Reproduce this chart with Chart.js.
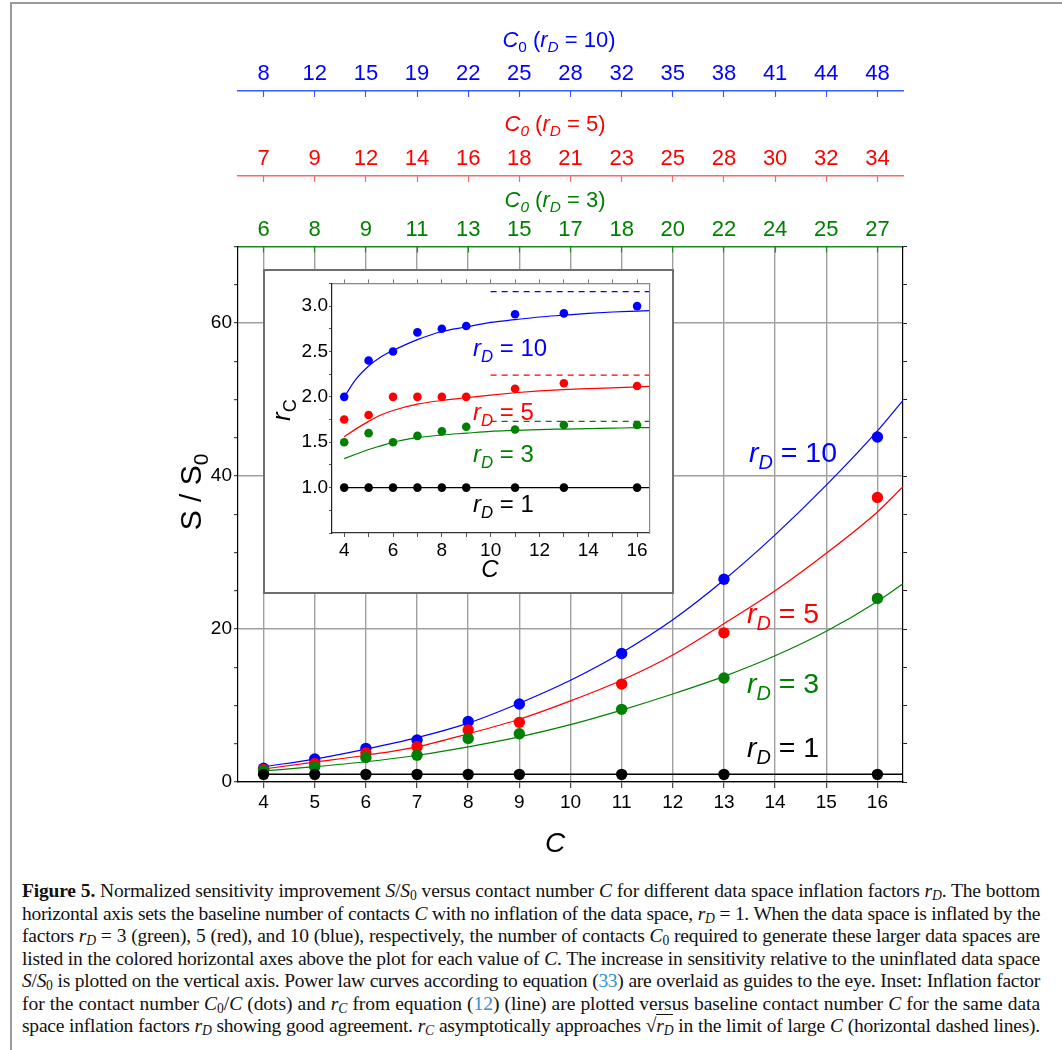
<!DOCTYPE html>
<html>
<head>
<meta charset="utf-8">
<script src="https://cdn.jsdelivr.net/npm/chart.js@4.4.1/dist/chart.umd.min.js"></script>
<style>
  html, body { margin: 0; padding: 0; background: #fff; }
  body { width: 1062px; height: 1050px; position: relative; overflow: hidden; }
  #frame { position: absolute; left: 10px; top: 2px; width: 1100px; height: 1100px; border-left: 2px solid #9a9a9a; border-top: 2px solid #9a9a9a; }
  #main { position: absolute; left: 0; top: 0; }
  #insetBox { position: absolute; left: 263px; top: 269px; width: 407px; height: 321px; border: 2px solid #6e6e6e; background: #fff; }
  #inset { display: block; }
  .cap { position: absolute; left: 22px; top: 880px; width: 1018px; font-family: "Liberation Serif", "Times New Roman", serif; font-size: 19.5px; color: #111; }
  .cap div { height: 22.5px; line-height: 22.5px; text-align: justify; text-align-last: justify; white-space: nowrap; }
  .cap sub { font-size: 70%; line-height: 0; vertical-align: -0.25em; }
  .ref { color: #2f8fd0; }
  .sq { border-top: 1px solid #111; }
</style>
</head>
<body>
<div id="frame"></div>
<canvas id="main" width="1062" height="870"></canvas>
<div id="insetBox"><canvas id="inset" width="407" height="321"></canvas></div>
<div class="cap">
  <div><b>Figure 5.</b> Normalized sensitivity improvement <i>S</i>/<i>S</i><sub>0</sub> versus contact number <i>C</i> for different data space inflation factors <i>r<sub>D</sub></i>. The bottom</div>
  <div>horizontal axis sets the baseline number of contacts <i>C</i> with no inflation of the data space, <i>r<sub>D</sub></i> = 1. When the data space is inflated by the</div>
  <div>factors <i>r<sub>D</sub></i> = 3 (green), 5 (red), and 10 (blue), respectively, the number of contacts <i>C</i><sub>0</sub> required to generate these larger data spaces are</div>
  <div>listed in the colored horizontal axes above the plot for each value of <i>C</i>. The increase in sensitivity relative to the uninflated data space</div>
  <div><i>S</i>/<i>S</i><sub>0</sub> is plotted on the vertical axis. Power law curves according to equation (<span class="ref">33</span>) are overlaid as guides to the eye. Inset: Inflation factor</div>
  <div>for the contact number <i>C</i><sub>0</sub>/<i>C</i> (dots) and <i>r<sub>C</sub></i> from equation (<span class="ref">12</span>) (line) are plotted versus baseline contact number <i>C</i> for the same data</div>
  <div>space inflation factors <i>r<sub>D</sub></i> showing good agreement. <i>r<sub>C</sub></i> asymptotically approaches &radic;<span class="sq"><i>r<sub>D</sub></i></span> in the limit of large <i>C</i> (horizontal dashed lines).</div>
</div>
<script>
// bottom axis C and the three C0 axes on top
var cTicks = [4, 5, 6, 7, 8, 9, 10, 11, 12, 13, 14, 15, 16];
var c0r10 = [8, 12, 15, 19, 22, 25, 28, 32, 35, 38, 41, 44, 48];
var c0r5 = [7, 9, 12, 14, 16, 18, 21, 23, 25, 28, 30, 32, 34];
var c0r3 = [6, 8, 9, 11, 13, 15, 17, 18, 20, 22, 24, 25, 27];

// S/S0 dots
var pointC = [4, 5, 6, 7, 8, 9, 11, 13, 16];
var s10 = [1.8, 3.0, 4.4, 5.5, 7.9, 10.2, 16.8, 26.5, 45.1];
var s5 = [1.65, 2.4, 3.8, 4.6, 6.8, 7.8, 12.8, 19.5, 37.2];
var s3 = [1.5, 2.0, 3.2, 3.5, 5.7, 6.3, 9.5, 13.6, 24.0];
var s1 = [1, 1, 1, 1, 1, 1, 1, 1, 1];

// power law guide curves
var curveC = [4, 5, 6, 7, 8, 9, 10, 11, 12, 13, 14, 15, 16, 16.5];
var s10Curve = [2.0, 3.0, 4.3, 5.8, 7.7, 10.3, 13.3, 16.9, 21.2, 26.4, 32.3, 38.8, 45.9, 49.9];
var s5Curve = [1.7, 2.6, 3.5, 4.6, 6.3, 8.2, 10.6, 13.3, 16.6, 20.7, 25.0, 29.9, 35.3, 38.6];
var s3Curve = [1.45, 2.0, 2.65, 3.5, 4.6, 5.9, 7.5, 9.4, 11.5, 13.8, 16.5, 19.7, 23.6, 25.9];
var flatC = [4, 16.5];
var s1Curve = [1, 1];

// inset: C0/C dots, rC lines and sqrt(rD) asymptotes
var r10 = [2.0, 2.4, 2.5, 2.71, 2.75, 2.78, 2.91, 2.92, 3.0];
var r5 = [1.75, 1.8, 2.0, 2.0, 2.0, 2.0, 2.09, 2.15, 2.12];
var r3 = [1.5, 1.6, 1.5, 1.57, 1.62, 1.67, 1.64, 1.69, 1.69];
var r1 = [1, 1, 1, 1, 1, 1, 1, 1, 1];
var insetCurveC = [4, 4.5, 5, 5.5, 6, 7, 8, 9, 10, 11, 12, 13, 14, 15, 16, 16.5];
var rc10 = [2.0, 2.2, 2.34, 2.44, 2.51, 2.63, 2.72, 2.77, 2.82, 2.85, 2.88, 2.90, 2.92, 2.935, 2.945, 2.95];
var rc5 = [1.56, 1.65, 1.73, 1.8, 1.85, 1.92, 1.96, 1.99, 2.02, 2.045, 2.065, 2.08, 2.09, 2.10, 2.11, 2.115];
var rc3 = [1.32, 1.37, 1.42, 1.46, 1.5, 1.55, 1.58, 1.60, 1.62, 1.63, 1.64, 1.645, 1.65, 1.655, 1.66, 1.662];
var rc1 = [1, 1];
var dashC = [10, 16.5];
var sqrt10 = [3.16, 3.16];
var sqrt5 = [2.24, 2.24];
var sqrt3 = [1.73, 1.73];

var FONT = '"Liberation Sans", Arial, sans-serif';
var BLUE = '#0000ff', RED = '#ff0000', GREEN = '#008000';

function xy(xs, ys) {
    return xs.map(function (x, i) { return { x: x, y: ys[i] }; });
}
function dots(xs, ys, color, r) {
    return { data: xy(xs, ys), showLine: false, pointRadius: r, pointHoverRadius: r,
        pointBackgroundColor: color, pointBorderWidth: 0, borderColor: color };
}
function curve(xs, ys, color, w, dash) {
    return { data: xy(xs, ys), showLine: true, pointRadius: 0, borderColor: color, borderWidth: w,
        borderDash: dash || [], cubicInterpolationMode: 'monotone', fill: false };
}
function setTicks(values) {
    return function (scale) { scale.ticks = values.map(function (v) { return { value: v }; }); };
}
function fixHeight(h) { return function (scale) { scale.height = h; }; }
function fixWidth(w) { return function (scale) { scale.width = w; }; }

function fontOf(p, size) {
    var st = p[1] || '';
    return (st.indexOf('i') >= 0 ? 'italic ' : '') + (st.indexOf('s') >= 0 ? size * 0.7 : size) + 'px ' + FONT;
}
// text with italic / subscript runs
function drawRich(ctx, parts, x, y, size, color, align) {
    var widths = parts.map(function (p) { ctx.font = fontOf(p, size); return ctx.measureText(p[0]).width; });
    var total = widths.reduce(function (a, b) { return a + b; }, 0);
    var cx = align === 'left' ? x : x - total / 2;
    ctx.fillStyle = color;
    ctx.textAlign = 'left';
    ctx.textBaseline = 'alphabetic';
    parts.forEach(function (p, i) {
        ctx.font = fontOf(p, size);
        ctx.fillText(p[0], cx, (p[1] || '').indexOf('s') >= 0 ? y + size * 0.24 : y);
        cx += widths[i];
    });
}
function rdLabel(v) { return [['r', 'i'], ['D', 'is'], [' = ' + v]]; }

function topAxis(labels, color, lineColor, weight, height) {
    return {
        type: 'linear', position: 'top', min: 3.5, max: 16.5, weight: weight,
        afterBuildTicks: setTicks(cTicks),
        afterFit: fixHeight(height),
        border: { color: lineColor, width: 1.5 },
        grid: { drawOnChartArea: false, tickLength: -6, tickColor: lineColor, tickWidth: 1.2 },
        ticks: { color: color, font: { size: 22, family: FONT }, padding: 9.5, maxRotation: 0, autoSkip: false,
            callback: function (v, i) { return labels[i]; } }
    };
}

var mainText = {
    id: 'mainText',
    afterDraw: function (chart) {
        var ctx = chart.ctx;
        ctx.save();
        drawRich(ctx, [['C', 'i'], ['0', 's'], [' ('], ['r', 'i'], ['D', 'is'], [' = 10)']], 559, 47, 22, BLUE);
        drawRich(ctx, [['C', 'i'], ['0', 'is'], [' ('], ['r', 'i'], ['D', 'is'], [' = 5)']], 555, 131, 22, RED);
        drawRich(ctx, [['C', 'i'], ['0', 'is'], [' ('], ['r', 'i'], ['D', 'is'], [' = 3)']], 555, 207, 22, GREEN);
        drawRich(ctx, rdLabel(10), 749, 462, 28.5, BLUE, 'left');
        drawRich(ctx, rdLabel(5), 747, 623, 28.5, RED, 'left');
        drawRich(ctx, rdLabel(3), 747, 693, 28.5, GREEN, 'left');
        drawRich(ctx, rdLabel(1), 747, 757, 28.5, '#000', 'left');
        drawRich(ctx, [['C', 'i']], 555, 852, 28, '#000');
        ctx.translate(201, 492);
        ctx.rotate(-Math.PI / 2);
        drawRich(ctx, [['S'], [' / S'], ['0', 's']], 0, 0, 30, '#000');
        ctx.restore();
    }
};

new Chart(document.getElementById('main'), {
    type: 'scatter',
    data: {
        datasets: [
            dots(pointC, s1, '#000', 5.7),
            dots(pointC, s3, GREEN, 5.7),
            dots(pointC, s5, RED, 5.7),
            dots(pointC, s10, BLUE, 5.7),
            curve(flatC, s1Curve, '#000', 1.5),
            curve(curveC, s3Curve, GREEN, 1.2),
            curve(curveC, s5Curve, RED, 1.2),
            curve(curveC, s10Curve, BLUE, 1.2)
        ]
    },
    options: {
        responsive: false,
        animation: false,
        devicePixelRatio: 1,
        layout: { padding: 0 },
        plugins: { legend: { display: false }, tooltip: { enabled: false } },
        scales: {
            x: {
                type: 'linear', position: 'bottom', min: 3.5, max: 16.5,
                afterBuildTicks: setTicks(cTicks),
                afterFit: fixHeight(88),
                border: { color: '#000', width: 1.2 },
                grid: { color: '#a0a0a0', lineWidth: 1.4, tickLength: 6, tickColor: '#222', tickWidth: 1 },
                ticks: { color: '#000', font: { size: 19, family: FONT }, padding: 3, maxRotation: 0, autoSkip: false }
            },
            top3: topAxis(c0r3, GREEN, '#1f8a1f', 1, 70.5),
            top5: topAxis(c0r5, RED, '#f26a6a', 2, 85),
            top10: topAxis(c0r10, BLUE, '#3a5cff', 3, 91),
            y: {
                type: 'linear', position: 'left', min: 0, max: 70,
                afterFit: fixWidth(238),
                border: { color: '#000', width: 1.2 },
                grid: {
                    lineWidth: 1.4, tickLength: 4, tickColor: '#222', tickWidth: 1,
                    color: function (c) { return c.tick && c.tick.value % 20 === 0 ? '#a0a0a0' : 'rgba(0,0,0,0)'; }
                },
                ticks: { stepSize: 5, color: '#000', font: { size: 19, family: FONT }, padding: 2, autoSkip: false,
                    callback: function (v) { return v % 20 === 0 ? String(v) : ''; } }
            },
            y2: {
                type: 'linear', position: 'right', min: 0, max: 70,
                afterFit: fixWidth(159),
                border: { color: '#000', width: 1.2 },
                grid: { drawOnChartArea: false, tickLength: 4, tickColor: '#222', tickWidth: 1 },
                ticks: { stepSize: 5, autoSkip: false, padding: 0, callback: function () { return ''; } }
            }
        }
    },
    plugins: [mainText]
});

var insetText = {
    id: 'insetText',
    afterDraw: function (chart) {
        var ctx = chart.ctx;
        ctx.save();
        drawRich(ctx, rdLabel(10), 208, 85, 24, BLUE, 'left');
        drawRich(ctx, rdLabel(5), 208, 149, 24, RED, 'left');
        drawRich(ctx, rdLabel(3), 208, 191, 24, GREEN, 'left');
        drawRich(ctx, rdLabel(1), 208, 241, 24, '#000', 'left');
        drawRich(ctx, [['C', 'i']], 225, 306, 24, '#000');
        ctx.translate(25, 139);
        ctx.rotate(-Math.PI / 2);
        drawRich(ctx, [['r', 'i'], ['C', 's']], 0, 0, 26, '#000');
        ctx.restore();
    }
};

new Chart(document.getElementById('inset'), {
    type: 'scatter',
    data: {
        datasets: [
            dots(pointC, r1, '#000', 4.3),
            dots(pointC, r3, GREEN, 4.3),
            dots(pointC, r5, RED, 4.3),
            dots(pointC, r10, BLUE, 4.3),
            curve(flatC, rc1, '#000', 1.3),
            curve(insetCurveC, rc3, GREEN, 1.2),
            curve(insetCurveC, rc5, RED, 1.2),
            curve(insetCurveC, rc10, BLUE, 1.2),
            curve(dashC, sqrt3, GREEN, 1.2, [6, 5]),
            curve(dashC, sqrt5, RED, 1.2, [6, 5]),
            curve(dashC, sqrt10, BLUE, 1.2, [6, 5])
        ]
    },
    options: {
        responsive: false,
        animation: false,
        devicePixelRatio: 1,
        layout: { padding: 0 },
        plugins: { legend: { display: false }, tooltip: { enabled: false } },
        scales: {
            x: {
                type: 'linear', position: 'bottom', min: 3.5, max: 16.5,
                afterBuildTicks: setTicks(cTicks),
                afterFit: fixHeight(59),
                border: { color: '#333', width: 1.2 },
                grid: { drawOnChartArea: false, tickLength: 4, tickColor: '#555' },
                ticks: { color: '#000', font: { size: 19, family: FONT }, padding: 2, maxRotation: 0, autoSkip: false,
                    callback: function (v) { return v % 2 === 0 ? String(v) : ''; } }
            },
            x2: {
                type: 'linear', position: 'top', min: 3.5, max: 16.5,
                afterBuildTicks: setTicks(cTicks),
                afterFit: fixHeight(12),
                border: { color: '#888', width: 1.2 },
                grid: { drawOnChartArea: false, tickLength: 4, tickColor: '#777' },
                ticks: { padding: 0, autoSkip: false, callback: function () { return ''; } }
            },
            y: {
                type: 'linear', position: 'left', min: 0.5, max: 3.25,
                afterFit: fixWidth(67),
                border: { color: '#222', width: 1.2 },
                grid: { drawOnChartArea: false, tickLength: 3, tickColor: '#555' },
                ticks: { stepSize: 0.25, color: '#000', font: { size: 19, family: FONT }, padding: 1, autoSkip: false,
                    callback: function (v) { return (v >= 1 && v <= 3 && Math.abs(v * 2 - Math.round(v * 2)) < 1e-6) ? v.toFixed(1) : ''; } }
            },
            y2: {
                type: 'linear', position: 'right', min: 0.5, max: 3.25,
                afterFit: fixWidth(22.7),
                border: { color: '#888', width: 1.2 },
                grid: { drawOnChartArea: false, drawTicks: false },
                ticks: { display: false }
            }
        }
    },
    plugins: [insetText]
});

// squeeze caption lines that are too long, then justify them
document.querySelectorAll('.cap div').forEach(function (el) {
    var span = document.createElement('span');
    while (el.firstChild) span.appendChild(el.firstChild);
    el.appendChild(span);
    var w = span.getBoundingClientRect().width;
    var target = 1012;
    if (w > target) {
        span.style.letterSpacing = ((target - w) / span.textContent.length).toFixed(3) + 'px';
    }
    el.style.whiteSpace = 'normal';
});
</script>
</body>
</html>
